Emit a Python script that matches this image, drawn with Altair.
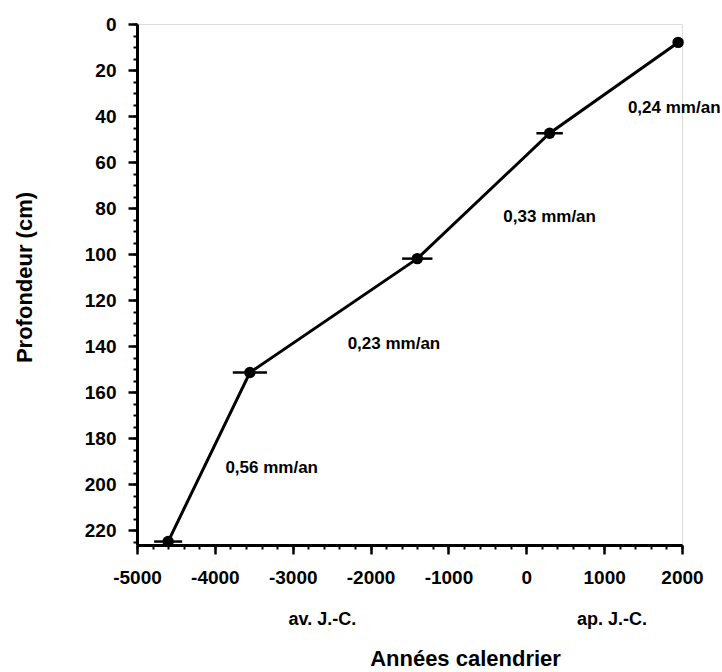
import altair as alt
import pandas as pd

# Data
years = [1950, 300, -1400, -3550, -4600]
depths = [8, 47.5, 102, 151.5, 225]
errors = [0, 170, 195, 220, 180]

rate_labels = ["0,24 mm/an", "0,33 mm/an", "0,23 mm/an", "0,56 mm/an"]
rate_x = [1900, 300, -1700, -3270]
rate_y = [36.5, 84, 139, 193]

era_labels = ["av. J.-C.", "ap. J.-C."]
era_x = [-2620, 1100]

FONT = "Liberation Sans"
W, H = 545, 521

df = pd.DataFrame({"year": years, "depth": depths, "err": errors})
df["lo"] = df["year"] - df["err"]
df["hi"] = df["year"] + df["err"]
rates = pd.DataFrame({"x": rate_x, "y": rate_y, "t": rate_labels})
eras = pd.DataFrame({"x": era_x, "t": era_labels})

xs = alt.Scale(domain=[-5000, 2000], nice=False, zero=False)
ys = alt.Scale(domain=[0, 226.5], nice=False, zero=False, reverse=True)

major_x = alt.Axis(
    orient="bottom", values=list(range(-5000, 2001, 1000)), labelExpr="datum.value + ''",
    title="Années calendrier", titleFont=FONT, titleFontSize=22, titleFontWeight="bold",
    titleColor="black", titleX=328, titleY=113, titleBaseline="middle", titleAlign="center",
    labelFont=FONT, labelFontSize=19, labelFontWeight="bold", labelColor="black",
    labelPadding=14, tickSize=9, tickWidth=2.5, tickColor="black", labelFlush=False,
    labelOverlap=False,
    domainColor="black", domainWidth=3, grid=False,
)
major_y = alt.Axis(
    orient="left", values=list(range(0, 221, 20)),
    title="Profondeur (cm)", titleFont=FONT, titleFontSize=22, titleFontWeight="bold",
    titleColor="black", titleX=-113, titleY=253, titleBaseline="middle", titleAlign="center",
    labelFont=FONT, labelFontSize=19, labelFontWeight="bold", labelColor="black",
    labelPadding=12, tickSize=9, tickWidth=2.5, tickColor="black", labelFlush=False,
    labelOverlap=False,
    domainColor="black", domainWidth=3, grid=False,
)
minor_x = alt.Axis(
    orient="bottom", values=list(range(-5000, 2001, 200)), labels=False, title=None,
    tickSize=4, tickWidth=2, tickColor="black", domain=False, grid=False,
)
minor_y = alt.Axis(
    orient="left", values=list(range(0, 226, 5)), labels=False, title=None,
    tickSize=4, tickWidth=2, tickColor="black", domain=False, grid=False,
)

line = alt.Chart(df).mark_line(color="black", strokeWidth=3).encode(
    x=alt.X("year:Q", scale=xs, axis=major_x),
    y=alt.Y("depth:Q", scale=ys, axis=major_y),
)
minor = alt.Chart(df).mark_point(opacity=0).encode(
    x=alt.X("year:Q", scale=xs, axis=minor_x),
    y=alt.Y("depth:Q", scale=ys, axis=minor_y),
)
bars = alt.Chart(df[df["err"] > 0]).mark_rule(color="black", strokeWidth=2.5).encode(
    x=alt.X("lo:Q", scale=xs, axis=None),
    x2="hi:Q",
    y=alt.Y("depth:Q", scale=ys, axis=None),
)
pts = alt.Chart(df).mark_circle(color="black", size=130, opacity=1).encode(
    x=alt.X("year:Q", scale=xs, axis=None),
    y=alt.Y("depth:Q", scale=ys, axis=None),
)
txt = alt.Chart(rates).mark_text(font=FONT, fontSize=17, fontWeight="bold", color="black").encode(
    x=alt.X("x:Q", scale=xs, axis=None),
    y=alt.Y("y:Q", scale=ys, axis=None),
    text="t:N",
)
era = alt.Chart(eras).mark_text(font=FONT, fontSize=18, fontWeight="bold", color="black").encode(
    x=alt.X("x:Q", scale=xs, axis=None),
    y=alt.value(H + 75),
    text="t:N",
)

chart = alt.layer(line, minor, bars, pts, txt, era).resolve_axis(
    x="independent", y="independent"
).properties(
    width=W, height=H,
    autosize=alt.AutoSizeParams(type="none"),
    padding={"left": 137, "top": 24, "right": 40, "bottom": 127},
).configure_view(stroke=None).configure(background="white")

chart.save("out.html", embed_options={"renderer": "svg", "actions": False})
